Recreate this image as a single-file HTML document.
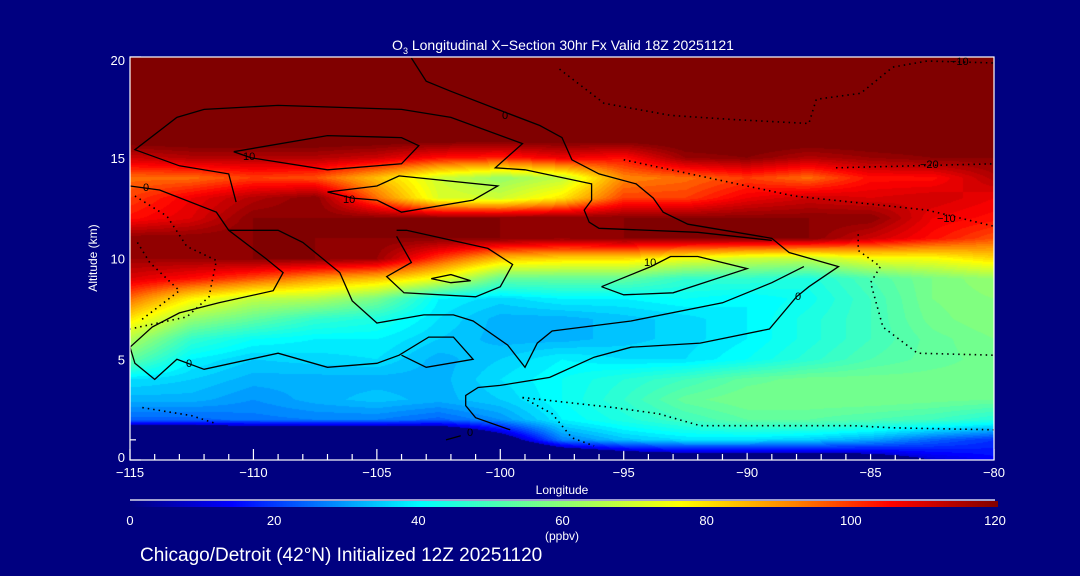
<!DOCTYPE html>
<html><head><meta charset="utf-8"><style>
html,body{margin:0;padding:0;background:#000080;}
#wrap{position:relative;width:1080px;height:576px;background:#000080;overflow:hidden;font-family:"Liberation Sans",sans-serif;}
#field{position:absolute;left:130px;top:57px;}
#ov{position:absolute;left:0;top:0;}
#ov2{position:absolute;left:0;top:0;}
#cbar{position:absolute;left:130px;top:501px;}
</style></head><body>
<div id="wrap">
<svg id="ov2" width="1080" height="576" xmlns="http://www.w3.org/2000/svg">
<g id="axes" stroke="#fff" stroke-width="1.2" fill="none"></g>
</svg>
<canvas id="field" width="864" height="403"></canvas>
<canvas id="cbar" width="868" height="6"></canvas>
<svg id="ov" width="1080" height="576" xmlns="http://www.w3.org/2000/svg">
<g id="contours" fill="none" stroke="#000" stroke-width="1.3"></g>
<g id="frame" stroke="#fff" stroke-width="1.2" fill="none"></g>
<g id="labels" fill="#fff" font-family="Liberation Sans, sans-serif">
<text x="563" y="50" font-size="14" text-anchor="middle">O<tspan font-size="9" dy="4">3</tspan><tspan dy="-4"> Longitudinal X−Section 30hr  Fx Valid 18Z 20251121</tspan></text>
<text x="562" y="494" font-size="12" text-anchor="middle">Longitude</text>
<text x="97" y="258" font-size="12" text-anchor="middle" transform="rotate(-90 97 258)">Altitude (km)</text>
<text x="562" y="540" font-size="12" text-anchor="middle">(ppbv)</text>
<text x="140" y="561" font-size="19">Chicago/Detroit (42°N) Initialized 12Z 20251120</text>
</g>
<g id="clabels" fill="#000" font-size="11" font-family="Liberation Sans, sans-serif">
<text x="143" y="191">0</text>
<text x="502" y="119">0</text>
<text x="795" y="300">0</text>
<text x="186" y="367">0</text>
<text x="467" y="436">0</text>
<text x="243" y="160">10</text>
<text x="343" y="203">10</text>
<text x="644" y="266">10</text>
<text x="950" y="65">−10</text>
<text x="920" y="168">−20</text>
<text x="937" y="222">−10</text>
</g>
</svg>
</div>
<script>
// ---- data ----
const longitudes = [-115,-112.5,-110,-107.5,-105,-102.5,-100,-97.5,-95,-92.5,-90,-87.5,-85,-82.5,-80];
const altitudes = [0,1,2,3,4,5,6,7,8,9,10,11,12,13,14,15,16,17,18,19,20];
const ozone = [
 [-40,-40,-40,-40,-40,-40,-30,-20,-10,-5,-5,-5,0,10,15],
 [-30,-30,-30,-30,-30,-25,0,28,35,38,38,36,32,25,20],
 [25,25,27,28,28,25,30,40,45,50,54,54,52,50,46],
 [33,33,30,33,35,33,36,42,48,55,58,58,58,57,56],
 [38,36,33,33,33,33,38,42,46,50,55,57,57,57,57],
 [55,40,36,37,38,33,36,40,38,38,42,47,52,55,57],
 [66,48,42,40,40,36,33,33,35,37,40,45,50,55,58],
 [80,62,55,48,45,38,33,33,35,37,40,45,50,57,60],
 [95,78,68,66,58,40,37,40,40,42,40,43,50,58,60],
 [110,105,98,90,85,75,55,55,55,48,48,45,52,58,62],
 [118,118,120,120,118,100,85,82,82,75,70,68,75,76,82],
 [120,120,120,120,120,120,120,118,120,120,120,120,112,105,98],
 [105,110,120,120,120,120,120,120,120,120,120,120,120,108,105],
 [100,108,115,120,95,72,70,80,100,100,108,112,110,112,108],
 [95,95,100,98,85,70,62,68,92,95,100,95,105,105,115],
 [112,115,115,115,112,105,103,108,105,118,120,115,118,120,120],
 [125,125,125,125,125,125,125,125,125,125,125,125,125,125,125],
 [125,125,125,125,125,125,125,125,125,125,125,125,125,125,125],
 [125,125,125,125,125,125,125,125,125,125,125,125,125,125,125],
 [125,125,125,125,125,125,125,125,125,125,125,125,125,125,125],
 [125,125,125,125,125,125,125,125,125,125,125,125,125,125,125]
];
const xTicks = [-115,-110,-105,-100,-95,-90,-85,-80];
const xTickLabels = ["−115","−110","−105","−100","−95","−90","−85","−80"];
const yTicks = [0,5,10,15,20];
const cbTicks = [0,20,40,60,80,100,120];

// contours (lon, alt)
const contourSolid = [
 [[-103.6,19.95],[-103.0,18.8],[-102.0,18.3],[-99.9,17.3],[-98.4,16.6],[-97.5,16.0],[-97.1,14.9],[-96.0,14.2],[-94.5,13.7],[-93.8,13.0],[-93.4,12.3],[-92.4,11.7],[-89.0,11.0],[-88.3,10.3],[-86.3,9.6],[-87.5,8.6],[-88.0,8.1],[-89.1,6.5],[-91.9,5.8],[-94.7,5.6],[-96.2,5.1],[-98.0,4.1],[-100.0,3.7],[-100.9,3.6],[-101.4,3.2],[-101.4,2.7],[-101.0,2.1],[-99.6,1.5]],
 [[-110.7,12.8],[-111.0,14.2],[-113.0,14.6],[-114.8,15.4],[-113.1,17.0],[-112.0,17.4],[-109.0,17.6],[-104.0,17.4],[-102.0,17.0],[-99.1,15.7],[-100.2,14.5],[-99.0,14.4],[-96.3,13.7],[-96.3,12.9],[-96.6,12.4],[-96.4,11.8],[-96.0,11.5],[-92.0,11.3],[-89.0,10.9]],
 [[-115.0,13.6],[-113.8,13.4],[-111.5,12.3],[-111.0,11.4],[-109.5,10.0],[-108.8,9.3],[-109.2,8.4],[-111.4,7.8],[-113.0,7.3],[-114.1,6.6],[-115.0,5.6],[-114.8,4.8],[-114.0,4.0],[-113.1,5.0],[-112.0,4.5],[-109.0,5.3],[-107.0,4.6],[-105.0,4.8],[-104.1,5.2],[-102.9,6.1],[-101.9,6.1],[-101.1,5.0],[-103.0,4.6],[-104.0,5.2]],
 [[-111.0,11.4],[-109.0,11.4],[-108.0,10.8],[-106.5,9.3],[-106.0,7.9],[-105.0,6.8],[-103.1,7.2],[-101.9,7.2],[-101.1,6.9],[-99.7,5.7],[-99.0,4.6],[-98.5,5.8],[-97.9,6.4],[-94.7,6.9],[-91.0,7.8],[-89.0,8.8],[-87.7,9.6]],
 [[-110.8,15.3],[-107.0,16.1],[-104.0,16.0],[-103.3,15.6],[-104.0,14.7],[-107.0,14.4],[-110.1,15.0],[-110.8,15.3]],
 [[-107.0,13.3],[-105.0,13.6],[-104.1,14.1],[-100.1,13.6],[-101.1,12.9],[-104.0,12.3],[-105.0,12.9],[-106.0,13.0],[-107.0,13.3]],
 [[-95.9,8.6],[-93.9,9.6],[-93.1,10.1],[-92.0,10.1],[-90.0,9.5],[-92.0,8.7],[-93.0,8.3],[-95.0,8.2],[-95.9,8.6]],
 [[-104.2,11.4],[-103.8,11.4],[-100.5,10.5],[-99.5,9.7],[-100.0,8.6],[-101.0,8.1],[-103.9,8.3],[-104.6,9.1],[-103.6,9.8],[-104.2,11.1]],
 [[-102.8,9.0],[-102.0,9.2],[-101.2,8.9],[-102.0,8.8],[-102.8,9.0]],
 [[-101.6,1.2],[-102.2,1.0]]
];
const contourDotted = [
 [[-85.5,11.2],[-85.5,10.4],[-84.6,9.6],[-85.0,8.8],[-84.5,6.6],[-83.1,5.3],[-80.0,5.2]],
 [[-99.1,3.1],[-97.9,2.3],[-97.1,1.1],[-96.2,0.7]],
 [[-99.1,3.1],[-95.4,2.6],[-93.6,2.3],[-91.9,1.7],[-85.7,1.7],[-84.1,1.6],[-80.0,1.5]],
 [[-97.6,19.4],[-95.8,17.7],[-93.1,17.1],[-90.6,16.9],[-87.5,16.7],[-87.2,17.9],[-85.4,18.2],[-84.1,19.5],[-82.7,19.8],[-80.0,19.7]],
 [[-86.4,14.5],[-80.0,14.7]],
 [[-95.0,14.9],[-88.1,13.1],[-82.7,12.4],[-80.0,11.6]],
 [[-114.8,13.1],[-113.5,12.1],[-112.7,10.6],[-111.5,9.9],[-111.8,8.1],[-112.7,7.1],[-115.0,6.5]],
 [[-114.7,10.8],[-114.2,9.8],[-113.0,8.4],[-114.6,6.9]],
 [[-114.5,2.6],[-112.5,2.2],[-111.5,1.8]]
];

// ---- scales ----
const PX0=130, PX1=994, PY0=57, PY1=460;
const xS = lon => PX0 + (lon+115)/35*(PX1-PX0);
const yS = alt => PY1 - alt/20*(PY1-PY0);

const stops=[[10,[0,0,220]],[14,[0,0,255]],[40,[0,255,255]],[58,[128,255,128]],[76,[255,255,0]],[92,[255,128,0]],[105,[255,0,0]],[120,[128,0,0]]];
function cmap(v){
  if(v<10) return null;
  if(v>=120) return [128,0,0];
  for(let i=1;i<stops.length;i++){
    if(v<=stops[i][0]){
      const a=stops[i-1],b=stops[i],t=(v-a[0])/(b[0]-a[0]);
      return [0,1,2].map(k=>Math.round(a[1][k]+(b[1][k]-a[1][k])*t));
    }
  }
  return [128,0,0];
}
function cbmap(v){
  if(v<=10) { const t=v/10; return [0,0,Math.round(128+92*t)]; }
  return cmap(v);
}
function sample(lon,alt){
  let fi=(lon-longitudes[0])/(longitudes[1]-longitudes[0]);
  let fj=(alt-altitudes[0])/(altitudes[1]-altitudes[0]);
  fi=Math.max(0,Math.min(longitudes.length-1.0001,fi));
  fj=Math.max(0,Math.min(altitudes.length-1.0001,fj));
  const i=Math.floor(fi),j=Math.floor(fj),ti=fi-i,tj=fj-j;
  const a=ozone[j][i],b=ozone[j][i+1],c=ozone[j+1][i],d=ozone[j+1][i+1];
  return (a*(1-ti)+b*ti)*(1-tj)+(c*(1-ti)+d*ti)*tj;
}
(function(){
  const cv=document.getElementById('field'),ctx=cv.getContext('2d');
  const W=cv.width,H=cv.height,img=ctx.createImageData(W,H);
  for(let py=0;py<H;py++){
    const alt=(PY1-(PY0+py+0.5))/(PY1-PY0)*20;
    for(let px=0;px<W;px++){
      const lon=-115+(px+0.5)/(PX1-PX0)*35;
      let v=sample(lon,alt);
      v=Math.floor(v/2)*2;
      const c=cmap(v),k=(py*W+px)*4;
      if(!c){img.data[k+3]=0;continue;}
      img.data[k]=c[0];img.data[k+1]=c[1];img.data[k+2]=c[2];img.data[k+3]=255;
    }
  }
  ctx.putImageData(img,0,0);
  const cb=document.getElementById('cbar'),cc=cb.getContext('2d');
  for(let px=0;px<cb.width;px++){
    const c=cbmap(px/cb.width*120);
    cc.fillStyle='rgb('+c.join(',')+')';cc.fillRect(px,0,1,6);
  }
})();
const NS='http://www.w3.org/2000/svg';
function mk(tag,attrs,parent){const e=document.createElementNS(NS,tag);for(const k in attrs)e.setAttribute(k,attrs[k]);parent.appendChild(e);return e;}
const cg=document.getElementById('contours');
contourSolid.forEach(line=>{
  const p=mk('polyline',{points:line.map(q=>xS(q[0]).toFixed(1)+','+yS(q[1]).toFixed(1)).join(' ')},cg);
  
  
});
contourDotted.forEach(line=>{
  const p=mk('polyline',{points:line.map(q=>xS(q[0]).toFixed(1)+','+yS(q[1]).toFixed(1)).join(' '),'stroke-dasharray':'1.5 4','stroke-width':'1.6'},cg);
  
  
});
const ag=document.getElementById('axes'),lg=document.getElementById('labels'),fg=document.getElementById('frame');
const frame=mk('rect',{x:PX0,y:PY0,width:PX1-PX0,height:PY1-PY0},fg);


for(let lon=-115;lon<=-80;lon++){
  const major=(lon%5===0);
  const t=mk('line',{x1:xS(lon),x2:xS(lon),y1:PY1,y2:PY1-(major?11:6)},ag);
  
  
}
xTicks.forEach((v,i)=>{
  const t=mk('text',{x:xS(v),y:PY1+17,'font-size':'13','text-anchor':'middle'},lg);
  t.textContent=xTickLabels[i];
  
  
});
for(let a=0;a<=20;a++){
  const major=(a%5===0);
  const t=mk('line',{x1:PX0,x2:PX0+(major?11:6),y1:yS(a),y2:yS(a)},ag);
  
  
}
yTicks.forEach(v=>{
  const t=mk('text',{x:125,y:yS(v)+(v===20?8:v===0?2:5),'font-size':'13','text-anchor':'end'},lg);
  t.textContent=String(v);
  
  
});
const cbl=mk('line',{x1:130,x2:995,y1:500,y2:500},fg);


cbTicks.forEach(v=>{
  const t=mk('text',{x:130+v/120*865,y:525,'font-size':'13','text-anchor':'middle'},lg);
  t.textContent=String(v);
  
  
});
</script>
</body></html>
